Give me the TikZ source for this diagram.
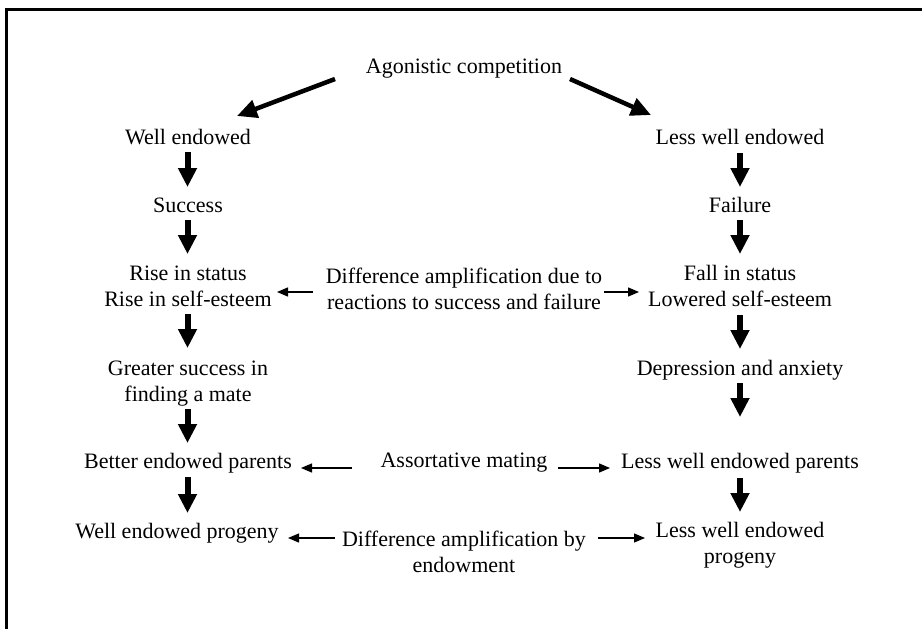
\documentclass[tikz,border=0pt]{standalone}
\usepackage{fontspec}
\setmainfont{Liberation Serif}
\usetikzlibrary{arrows.meta}
\tikzset{
  txt/.style={inner sep=0pt, anchor=base, align=center, font=\fontsize{22}{26}\selectfont},
  bigarr/.style={line width=6pt, -{Triangle[width=18pt,length=19pt]}},
  diagarr/.style={line width=4.5pt, -{Triangle[width=18pt,length=20pt]}},
  thinarr/.style={line width=1.3pt, -{Triangle[width=9pt,length=11pt]}},
  frame/.style={line width=3pt}
}
\begin{document}
\begin{tikzpicture}[x=1pt,y=-1pt]
\useasboundingbox (0,0) rectangle (922,629);
\clip (0,0) rectangle (922,629);
\fill[white] (0,0) rectangle (922,629);
\draw[frame] (6,640) -- (6,9.5) -- (935,9.5);

% single-line nodes: base = baseline; multi-line nodes: base = last baseline
\node[txt] (agon) at (464,73) {Agonistic competition};
\node[txt] (we) at (188,144) {Well endowed};
\node[txt] (lwe) at (740,144) {Less well endowed};
\node[txt] (succ) at (188,212) {Success};
\node[txt] (fail) at (740,212) {Failure};
\node[txt] (rise) at (188,306) {Rise in status\\Rise in self-esteem};
\node[txt] (fall) at (740,306) {Fall in status\\Lowered self-esteem};
\node[txt] (diff1) at (464,309) {Difference amplification due to\\reactions to success and failure};
\node[txt] (great) at (188,401) {Greater success in\\finding a mate};
\node[txt] (depr) at (740,375) {Depression and anxiety};
\node[txt] (better) at (188,468) {Better endowed parents};
\node[txt] (assort) at (464,467) {Assortative mating};
\node[txt] (lparents) at (740,468) {Less well endowed parents};
\node[txt] (wprog) at (177,538) {Well endowed progeny};
\node[txt] (lprog) at (740,563) {Less well endowed\\progeny};
\node[txt] (diff2) at (464,572) {Difference amplification by\\endowment};

% diagonal arrows
\draw[diagarr] ([xshift=-129pt,yshift=-6pt]agon.base) -- ([xshift=49pt,yshift=28pt]we.base);
\draw[diagarr] ([xshift=106pt,yshift=-6pt]agon.base) -- ([xshift=-89pt,yshift=29pt]lwe.base);

% left column
\draw[bigarr] ([xshift=-0.5pt,yshift=-8pt]we.base) -- ([xshift=-0.5pt,yshift=25pt]succ.base);
\draw[bigarr] ([xshift=-0.5pt,yshift=-8pt]succ.base) -- ([xshift=-0.5pt,yshift=52pt]rise.base);
\draw[bigarr] ([xshift=-0.5pt,yshift=-8pt]rise.base) -- ([xshift=-0.5pt,yshift=53pt]great.base);
\draw[bigarr] ([xshift=-0.5pt,yshift=-8pt]great.base) -- ([xshift=-0.5pt,yshift=25pt]better.base);
\draw[bigarr] ([xshift=-0.5pt,yshift=-9pt]better.base) -- ([xshift=10.5pt,yshift=25pt]wprog.base);

% right column
\draw[bigarr] ([yshift=-9pt]lwe.base) -- ([yshift=25pt]fail.base);
\draw[bigarr] ([yshift=-8pt]fail.base) -- ([yshift=52pt]fall.base);
\draw[bigarr] ([yshift=-9pt]fall.base) -- ([yshift=26pt]depr.base);
\draw[bigarr] ([yshift=-8pt]depr.base) -- ([yshift=51pt]lparents.base);
\draw[bigarr] ([yshift=-10pt]lparents.base) -- ([yshift=51pt]lprog.base);

% thin arrows
\draw[thinarr] ([xshift=-151pt,yshift=17pt]diff1.base) -- ([xshift=89pt,yshift=14pt]rise.base);
\draw[thinarr] ([xshift=140pt,yshift=17pt]diff1.base) -- ([xshift=-101pt,yshift=14pt]fall.base);
\draw[thinarr] ([xshift=-112pt,yshift=-1pt]assort.base) -- ([xshift=113pt]better.base);
\draw[thinarr] ([xshift=94pt,yshift=-1pt]assort.base) -- ([xshift=-130pt]lparents.base);
\draw[thinarr] ([xshift=-129pt,yshift=34pt]diff2.base) -- ([xshift=111pt]wprog.base);
\draw[thinarr] ([xshift=134pt,yshift=34pt]diff2.base) -- ([xshift=-95pt,yshift=25pt]lprog.base);
\end{tikzpicture}
\end{document}
